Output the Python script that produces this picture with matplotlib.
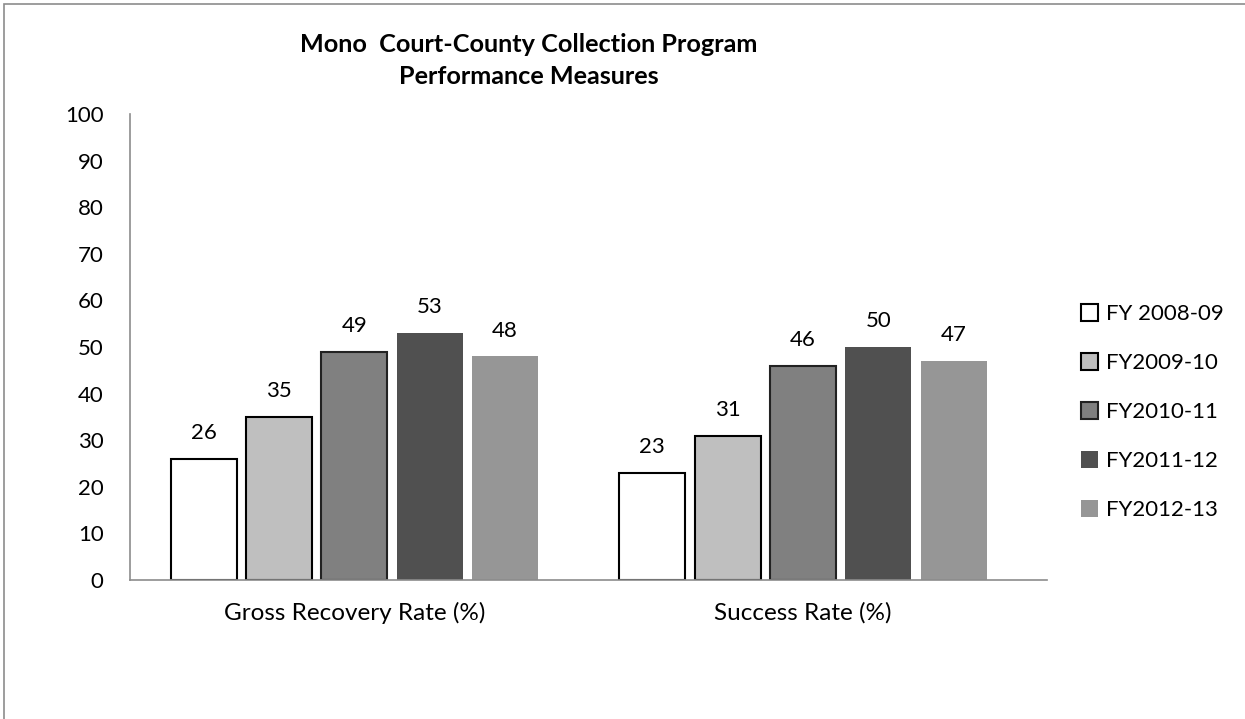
import numpy as np
import matplotlib
matplotlib.use("Agg")
import matplotlib.pyplot as plt
from matplotlib.patches import Rectangle

categories = ["Gross Recovery Rate (%)", "Success Rate (%)"]
series = ["FY 2008-09", "FY2009-10", "FY2010-11", "FY2011-12", "FY2012-13"]
values = [
    [26, 23],
    [35, 31],
    [49, 46],
    [53, 50],
    [48, 47],
]
colors = ["#FFFFFF", "#BFBFBF", "#808080", "#505050", "#969696"]
edges = ["black", "black", "#222222", "none", "none"]

plt.rcParams['font.family'] = ['Lato', 'DejaVu Sans']

fig = plt.figure(figsize=(12.45, 7.19), dpi=100)
ax = fig.add_axes([0.1044, 0.1933, 0.7366, 0.648])

x = np.arange(len(categories))
step = 0.168
width = 0.147
for i, (name, vals) in enumerate(zip(series, values)):
    pos = x + (i - 2) * step
    bars = ax.bar(pos, vals, width, color=colors[i], edgecolor=edges[i],
                  linewidth=1.5, label=name)
    for b, v in zip(bars, vals):
        ax.annotate(str(v), (b.get_x() + b.get_width() / 2, v),
                    xytext=(0, 18.5), textcoords="offset points",
                    ha="center", va="center", fontsize=16)

ax.set_xlim(-0.5, 1.544)
ax.set_ylim(0, 100)
ax.set_yticks(range(0, 101, 10))
ax.set_xticks(x)
ax.set_xticklabels(categories, fontsize=17.5)
ax.tick_params(axis="y", labelsize=16, length=0, pad=19)
ax.tick_params(axis="x", length=0, pad=16)
for s in ["top", "right"]:
    ax.spines[s].set_visible(False)
for s in ["left", "bottom"]:
    ax.spines[s].set_color("#8C8C8C")
    ax.spines[s].set_linewidth(1.2)

ax.legend(loc="center left", bbox_to_anchor=(1.015, 0.36), frameon=False,
          fontsize=16, handlelength=0.78, handleheight=0.78,
          labelspacing=1.3, handletextpad=0.35)

fig.text(0.425, 0.916, "Mono  Court-County Collection Program\nPerformance Measures",
         ha="center", va="center", fontsize=18.2, fontweight="bold", linespacing=1.5)

fig.patches.append(Rectangle((0.003, -0.01), 1.1, 1.004, transform=fig.transFigure,
                             fill=False, edgecolor="#8C8C8C", linewidth=1.2))

fig.savefig("out.png", dpi=100)
